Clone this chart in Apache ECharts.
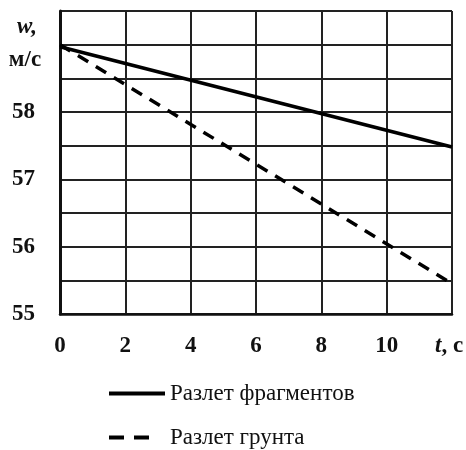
<!DOCTYPE html>
<html>
<head>
<meta charset="utf-8">
<script src="https://cdn.jsdelivr.net/npm/echarts@6/dist/echarts.min.js"></script>
<style>
  html, body { margin: 0; padding: 0; background: #fff; }
  #chart { width: 466px; height: 450px; }
</style>
</head>
<body>
<div id="chart"></div>
<script>
// Time points, s
const timePoints = [0, 12];
// Velocity w, m/s
const fragmentsSpeed = [58.97, 57.48];
const soilSpeed = [59.0, 55.45];
// Series names
const seriesNames = ['Разлет фрагментов', 'Разлет грунта'];
// Labelled y ticks
const yTickLabels = [55, 56, 57, 58];

const serif = '"Liberation Serif", "Times New Roman", serif';
const ink = '#111';

const pairs = (xs, ys) => xs.map((x, i) => [x, ys[i]]);

const chart = echarts.init(document.getElementById('chart'));
chart.setOption({
  animation: false,
  backgroundColor: '#fff',
  grid: { left: 60, right: 14, top: 11, bottom: 136, outerBoundsMode: 'none', containLabel: false },
  xAxis: {
    type: 'value',
    min: 0, max: 12, interval: 2,
    axisLine: { show: true, onZero: false, lineStyle: { color: ink, width: 2.5 } },
    axisTick: { show: false },
    splitLine: { show: true, lineStyle: { color: '#222', width: 2 } },
    axisLabel: {
      margin: 21,
      color: ink,
      fontFamily: serif,
      fontSize: 23,
      fontWeight: 'bold',
      formatter: v => v === 12 ? '{i|t}, с ' : String(v),
      rich: {
        i: { fontStyle: 'italic', fontFamily: serif, fontSize: 23, fontWeight: 'bold', color: ink }
      }
    }
  },
  yAxis: {
    type: 'value',
    min: 55, max: 59.5, interval: 0.5,
    name: '{w|w,}\n{u|м/с}',
    nameLocation: 'end',
    nameGap: -66,
    nameTextStyle: {
      align: 'center',
      padding: [0, 70, 0, 0],
      rich: {
        w: { fontStyle: 'italic', fontFamily: serif, fontSize: 23, fontWeight: 'bold', color: ink, lineHeight: 32, align: 'center', padding: [0, 0, 0, 4] },
        u: { fontFamily: serif, fontSize: 23, fontWeight: 'bold', color: ink, lineHeight: 34, align: 'center' }
      }
    },
    axisLine: { show: true, onZero: false, lineStyle: { color: ink, width: 3 } },
    axisTick: { show: false },
    splitLine: { show: true, lineStyle: { color: '#222', width: 2 } },
    axisLabel: {
      margin: 25,
      color: ink,
      fontFamily: serif,
      fontSize: 23,
      fontWeight: 'bold',
      formatter: v => yTickLabels.includes(v) ? String(v) : ''
    }
  },
  legend: {
    orient: 'vertical',
    left: 107,
    top: 382,
    padding: 0,
    itemWidth: 56,
    itemHeight: 14,
    itemGap: 21,
    itemStyle: { opacity: 0 },
    textStyle: { fontFamily: serif, fontSize: 23, lineHeight: 23, color: ink },
    data: [
      { name: seriesNames[0], lineStyle: { width: 4, type: 'solid' } },
      { name: seriesNames[1], lineStyle: { width: 4, type: [15, 10, 15, 30] } }
    ]
  },
  series: [
    {
      name: seriesNames[0],
      type: 'line',
      symbol: 'none',
      data: pairs(timePoints, fragmentsSpeed),
      lineStyle: { color: '#000', width: 3.5, type: 'solid' },
      itemStyle: { color: '#000' }
    },
    {
      name: seriesNames[1],
      type: 'line',
      symbol: 'none',
      data: pairs(timePoints, soilSpeed),
      lineStyle: { color: '#000', width: 3.5, type: [12, 9] },
      itemStyle: { color: '#000' }
    }
  ]
});
</script>
</body>
</html>
